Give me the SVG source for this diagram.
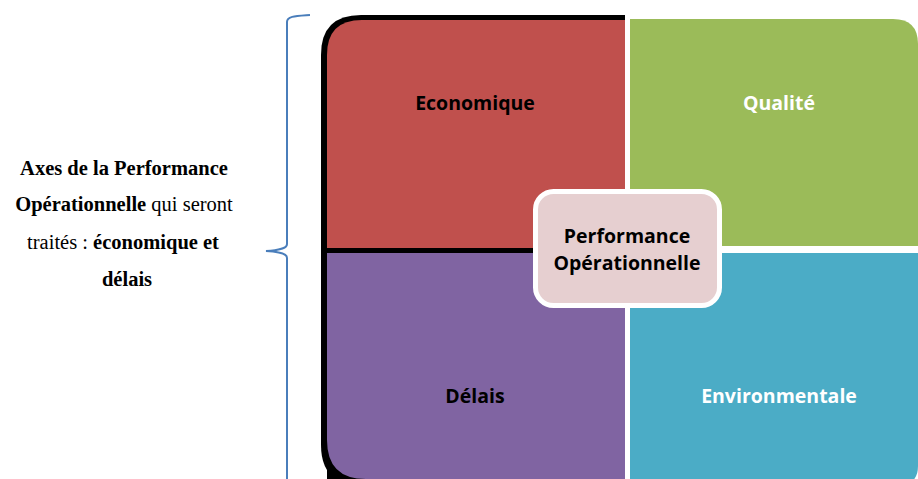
<svg xmlns="http://www.w3.org/2000/svg" width="918" height="479" viewBox="0 0 918 479">
<style>
.q{font-family:"Open Sans","Liberation Sans",sans-serif;font-weight:bold;font-size:19.5px;text-anchor:middle}
.c{font-family:"Open Sans","Liberation Sans",sans-serif;font-weight:bold;font-size:19.5px;text-anchor:middle;fill:#000}
.t{font-family:"Liberation Serif",serif;font-size:20.5px;text-anchor:middle;fill:#000}
</style>
<rect width="918" height="479" fill="#fff"/>
<g id="brace">
<path d="M310,15 C296,16 287,16 287,22 L287,244 C287,248 282,250 266,251 C282,252 287,254 287,258 L287,479" fill="none" stroke="#4A7EBB" stroke-width="2"/>
</g>
<g id="left-text">
<text class="t" x="124" y="175"><tspan font-weight="bold">Axes de la Performance</tspan></text>
<text class="t" x="124" y="211"><tspan font-weight="bold">Opérationnelle</tspan> qui seront</text>
<text class="t" x="123" y="249">traités : <tspan font-weight="bold">économique et</tspan></text>
<text class="t" x="127" y="286"><tspan font-weight="bold">délais</tspan></text>
</g>
<g id="frame">
<path d="M625,15 L361,15 Q321,15 321,55 L321,445 Q321,485 361,485 L625,485 Z" fill="#000"/>
</g>
<g id="economique">
<path d="M625,20 L362,20 Q327,20 327,55 L327,248 L625,248 Z" fill="#C0504D"/>
<text class="q" x="475" y="110" fill="#000">Economique</text>
</g>
<g id="delais">
<path d="M327,253 L625,253 L625,479 L327,479 L327,445 Z" fill="#8064A2"/>
<path d="M327,440 Q327,479 366,479 L327,479 Z" fill="#000"/>
<text class="q" x="475" y="403" fill="#000">Délais</text>
</g>
<g id="qualite">
<path d="M630,19 L893,19 Q918,19 918,44 L918,246 L630,246 Z" fill="#9BBB59"/>
<text class="q" x="779" y="110" fill="#fff">Qualité</text>
</g>
<g id="environmentale">
<path d="M630,253 L918,253 L918,466 Q918,485 899,485 L630,485 Z" fill="#4BACC6"/>
<text class="q" x="779" y="403" fill="#fff">Environmentale</text>
</g>
<g id="performance">
<rect x="535.5" y="191.5" width="184" height="114" rx="18" fill="#E6CFD0" stroke="#fff" stroke-width="5"/>
<text class="c" x="627" y="243">Performance</text>
<text class="c" x="627" y="270">Opérationnelle</text>
</g>
</svg>
